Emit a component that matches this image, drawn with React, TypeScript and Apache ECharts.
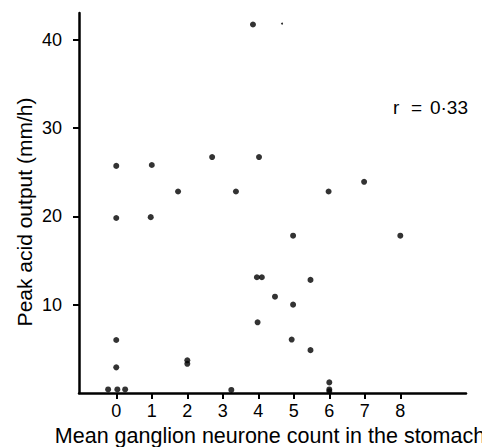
import React, { useEffect, useRef } from "react";
import * as echarts from "echarts";

const ganglionCount: number[] = [
  0, 0, 0, 0, -0.23, 0.03, 0.25,
  1, 0.97, 1.74, 2, 2, 2.7, 3.24, 3.37,
  3.85, 4.02, 3.96, 4.1, 3.98, 4.47, 4.98, 4.98, 4.94, 5.47, 5.47,
  5.98, 6, 6, 6, 6.98, 8,
];
const peakAcid: number[] = [
  25.7, 19.8, 6.0, 2.9, 0.4, 0.4, 0.4,
  25.8, 19.9, 22.8, 3.7, 3.3, 26.7, 0.35, 22.8,
  41.7, 26.7, 13.1, 13.1, 8.0, 10.9, 17.8, 10.0, 6.05, 12.8, 4.85,
  22.8, 1.2, 0.4, 0.2, 23.9, 17.8,
];
const speckX: number[] = [4.67];
const speckY: number[] = [41.8];
const xTicks: number[] = [0, 1, 2, 3, 4, 5, 6, 7, 8];
const yTicks: number[] = [10, 20, 30, 40];
const xTitle = "Mean ganglion neurone count in the stomach";
const yTitle = "Peak acid output (mm/h)";
const rParts: string[] = ["r", "=", "0·33"];

const FONT = "Liberation Sans, Arial, Helvetica, sans-serif";

export default function App() {
  const ref = useRef<HTMLDivElement>(null);
  useEffect(() => {
    if (!ref.current) return;
    const chart = echarts.init(ref.current, null, { renderer: "svg" });
    const pts = ganglionCount.map((x, i) => [x, peakAcid[i]]);
    const speck = speckX.map((x, i) => [x, speckY[i]]);
    const rStyle = { fill: "#000", font: `19px ${FONT}`, verticalAlign: "middle" };
    chart.setOption({
      animation: false,
      backgroundColor: "#ffffff",
      grid: {
        left: 79,
        right: 24,
        top: 13,
        bottom: 54,
        containLabel: false,
        outerBoundsMode: "none",
      },
      xAxis: {
        type: "value",
        min: -1.05,
        max: 9.85,
        splitLine: { show: false },
        axisLine: { onZero: false, lineStyle: { color: "#000", width: 2.5 } },
        axisTick: {
          show: true,
          customValues: xTicks,
          length: 6,
          lineStyle: { color: "#000", width: 2 },
        },
        axisLabel: {
          customValues: xTicks,
          color: "#000",
          fontSize: 18,
          fontFamily: FONT,
          margin: 9,
        },
      },
      yAxis: {
        type: "value",
        min: 0,
        max: 43,
        splitLine: { show: false },
        axisLine: { show: true, onZero: false, lineStyle: { color: "#000", width: 2.5 } },
        axisTick: {
          show: true,
          customValues: yTicks,
          length: 6,
          lineStyle: { color: "#000", width: 2 },
        },
        axisLabel: {
          customValues: yTicks,
          color: "#000",
          fontSize: 18,
          fontFamily: FONT,
          margin: 17,
        },
      },
      graphic: [
        {
          type: "text",
          x: 270,
          y: 436,
          style: {
            text: xTitle,
            fill: "#000",
            font: `21.5px ${FONT}`,
            align: "center",
            verticalAlign: "middle",
          },
        },
        {
          type: "text",
          x: 24,
          y: 212,
          rotation: Math.PI / 2,
          style: {
            text: yTitle,
            fill: "#000",
            font: `21px ${FONT}`,
            align: "center",
            verticalAlign: "middle",
          },
        },
        { type: "text", x: 393, y: 107, style: { ...rStyle, text: rParts[0], align: "left" } },
        { type: "text", x: 411, y: 107, style: { ...rStyle, text: rParts[1], align: "left" } },
        { type: "text", x: 468, y: 107, style: { ...rStyle, text: rParts[2], align: "right" } },
      ],
      series: [
        {
          type: "scatter",
          data: pts,
          symbol: "circle",
          symbolSize: 6,
          itemStyle: { color: "#000" },
        },
        {
          type: "scatter",
          data: speck,
          symbol: "circle",
          symbolSize: 2,
          itemStyle: { color: "#000" },
        },
      ],
    });
    return () => chart.dispose();
  }, []);
  return <div ref={ref} style={{ width: 490, height: 447, marginLeft: -8, marginTop: -8 }} />;
}
